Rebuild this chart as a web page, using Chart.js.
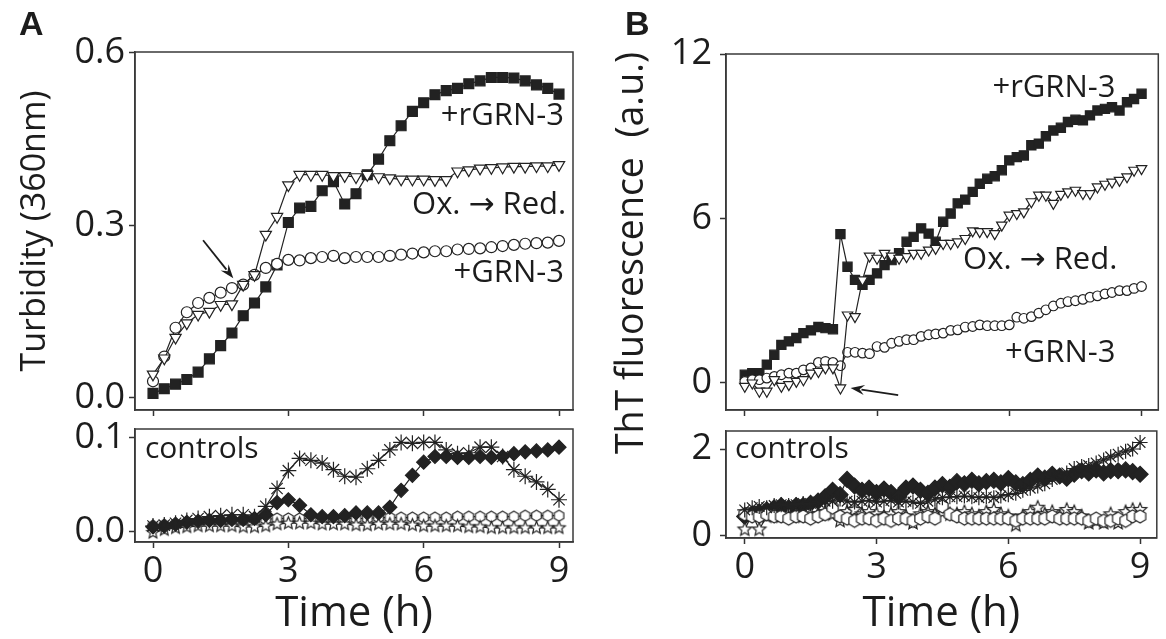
<!DOCTYPE html>
<html><head><meta charset="utf-8">
<script src="https://cdn.jsdelivr.net/npm/chart.js@4.4.1/dist/chart.umd.min.js"></script>
<style>
html,body{margin:0;padding:0;background:#fff;width:1166px;height:639px;overflow:hidden}
canvas{position:absolute;left:0;top:0}
</style></head><body>
<canvas id="cA1" width="1166" height="639"></canvas>
<canvas id="cA2" width="1166" height="639"></canvas>
<canvas id="cB1" width="1166" height="639"></canvas>
<canvas id="cB2" width="1166" height="639"></canvas>
<script>
// ---------------- data ----------------
const timeA = [0,0.25,0.5,0.75,1,1.25,1.5,1.75,2,2.25,2.5,2.75,3,3.25,3.5,3.75,4,4.25,4.5,4.75,5,5.25,5.5,5.75,6,6.25,6.5,6.75,7,7.25,7.5,7.75,8,8.25,8.5,8.75,9];
const timeB = [0,0.17,0.33,0.5,0.67,0.83,1,1.17,1.33,1.5,1.67,1.83,2,2.17,2.33,2.5,2.67,2.83,3,3.17,3.33,3.5,3.67,3.83,4,4.17,4.33,4.5,4.67,4.83,5,5.17,5.33,5.5,5.67,5.83,6,6.17,6.33,6.5,6.67,6.83,7,7.17,7.33,7.5,7.67,7.83,8,8.17,8.33,8.5,8.67,8.83,9];

// Panel A, turbidity
const turbRGRN3 = [0.008,0.016,0.024,0.032,0.045,0.068,0.091,0.113,0.143,0.165,0.193,0.231,0.305,0.33,0.333,0.36,0.376,0.337,0.355,0.388,0.415,0.447,0.473,0.498,0.513,0.527,0.534,0.538,0.546,0.551,0.557,0.557,0.556,0.551,0.544,0.538,0.528];
const turbOxRed = [0.041,0.069,0.105,0.13,0.145,0.15,0.162,0.163,0.197,0.214,0.284,0.315,0.37,0.388,0.388,0.388,0.386,0.386,0.384,0.388,0.384,0.382,0.38,0.38,0.38,0.379,0.379,0.394,0.396,0.399,0.4,0.401,0.402,0.402,0.403,0.403,0.405];
const turbGRN3 = [0.029,0.072,0.122,0.149,0.165,0.174,0.183,0.191,0.197,0.214,0.226,0.233,0.24,0.239,0.243,0.245,0.247,0.243,0.245,0.245,0.245,0.247,0.249,0.251,0.253,0.255,0.255,0.258,0.259,0.26,0.262,0.264,0.266,0.268,0.269,0.27,0.273];
// Panel A, controls
const turbCtlAsterisk = [0.006,0.007,0.009,0.012,0.014,0.016,0.017,0.018,0.018,0.016,0.027,0.046,0.065,0.078,0.076,0.073,0.066,0.059,0.058,0.067,0.076,0.087,0.095,0.094,0.095,0.095,0.087,0.083,0.084,0.09,0.09,0.08,0.066,0.059,0.053,0.045,0.034];
const turbCtlDiamond = [0.005,0.006,0.008,0.01,0.011,0.012,0.012,0.013,0.013,0.014,0.018,0.031,0.034,0.028,0.018,0.016,0.016,0.017,0.02,0.02,0.02,0.026,0.044,0.06,0.074,0.08,0.08,0.079,0.079,0.08,0.079,0.08,0.083,0.085,0.086,0.087,0.09];
const turbCtlHexagon = [0.006,0.007,0.008,0.009,0.01,0.011,0.011,0.012,0.012,0.013,0.013,0.014,0.014,0.014,0.014,0.014,0.014,0.014,0.014,0.014,0.015,0.015,0.015,0.015,0.015,0.015,0.015,0.016,0.016,0.016,0.016,0.016,0.016,0.017,0.017,0.017,0.017];
const turbCtlStar = [-0.001,0.002,0.004,0.005,0.006,0.006,0.006,0.006,0.005,0.005,0.006,0.008,0.009,0.009,0.009,0.008,0.008,0.008,0.007,0.007,0.008,0.008,0.008,0.007,0.006,0.006,0.006,0.006,0.005,0.005,0.004,0.004,0.004,0.004,0.004,0.004,0.004];

// Panel B, ThT fluorescence
const thtRGRN3 = [0.3,0.36,0.36,0.67,1.03,1.39,1.52,1.64,1.82,1.92,2.04,2.0,1.96,5.43,4.24,3.76,3.58,3.76,4.0,4.3,4.48,4.73,5.15,5.33,5.64,5.45,5.15,5.88,6.18,6.55,6.69,6.97,7.27,7.45,7.54,7.76,8.12,8.24,8.3,8.67,8.73,9.0,9.21,9.31,9.52,9.6,9.58,9.76,9.94,10.0,10.06,9.94,10.24,10.36,10.55];
const thtOxRed = [-0.12,0,-0.3,-0.3,0.12,-0.12,-0.06,0.06,0.12,0.36,0.42,0.55,0.55,-0.18,2.48,2.42,3.76,4.63,4.55,4.73,4.63,4.55,4.61,4.73,4.73,4.85,4.91,5.09,5.09,5.15,5.27,5.55,5.52,5.52,5.45,5.76,6.12,6.18,6.24,6.61,6.85,6.85,6.55,6.88,6.97,7.03,6.91,6.91,7.15,7.25,7.33,7.39,7.52,7.76,7.82];
const thtGRN3 = [0.06,0.12,0.12,0.18,0.24,0.3,0.36,0.36,0.48,0.55,0.75,0.79,0.75,0.63,1.12,1.12,1.09,1.07,1.33,1.3,1.45,1.52,1.58,1.58,1.7,1.76,1.79,1.82,1.92,1.94,2.04,2.06,2.12,2.09,2.09,2.09,2.12,2.4,2.36,2.42,2.55,2.67,2.81,2.91,2.97,3.0,3.05,3.13,3.18,3.25,3.3,3.37,3.37,3.45,3.52];
// Panel B, controls
const thtCtlDiamond = [0.45,0.5,0.55,0.6,0.65,0.7,0.65,0.7,0.7,0.75,0.8,0.9,1.05,0.95,1.3,1.15,1.05,1.1,1.0,1.08,1.0,0.9,1.1,1.15,1.05,0.98,1.1,1.18,1.12,1.25,1.2,1.28,1.2,1.25,1.28,1.22,1.32,1.22,1.18,1.28,1.38,1.33,1.42,1.38,1.33,1.42,1.5,1.45,1.52,1.45,1.5,1.5,1.52,1.48,1.42];
const thtCtlAsterisk = [0.6,0.65,0.68,0.65,0.7,0.72,0.7,0.72,0.75,0.75,0.78,0.8,0.8,0.85,0.8,0.78,0.8,0.82,0.78,0.8,0.82,0.78,0.8,0.78,0.75,0.8,0.85,0.88,0.9,0.9,0.92,0.9,0.88,0.9,0.88,0.92,0.95,0.98,1.05,1.1,1.15,1.2,1.3,1.38,1.45,1.55,1.6,1.62,1.68,1.75,1.82,1.88,1.95,2.0,2.15];
const thtCtlHexagon = [0.5,0.45,0.45,0.5,0.45,0.45,0.4,0.45,0.45,0.4,0.45,0.5,0.65,0.45,0.4,0.35,0.4,0.4,0.35,0.4,0.35,0.4,0.4,0.35,0.4,0.45,0.4,0.68,0.5,0.45,0.4,0.4,0.4,0.4,0.4,0.4,0.4,0.35,0.4,0.4,0.4,0.4,0.45,0.4,0.4,0.4,0.4,0.35,0.4,0.35,0.35,0.4,0.35,0.45,0.45];
const thtCtlStar = [0.15,0.5,0.15,0.45,0.5,0.45,0.5,0.5,0.45,0.5,0.5,0.55,0.5,0.35,0.55,0.6,0.5,0.55,0.5,0.45,0.5,0.55,0.45,0.3,0.5,0.55,0.5,0.55,0.5,0.5,0.55,0.5,0.45,0.55,0.6,0.5,0.45,0.25,0.45,0.55,0.65,0.5,0.55,0.45,0.6,0.55,0.45,0.3,0.35,0.3,0.5,0.3,0.55,0.6,0.6];

// tick values and labels
const timeTicks = [0,3,6,9];
const timeTickLabels = ['0','3','6','9'];
const turbTicks = [0,0.3,0.6];
const turbTickLabels = ['0.0','0.3','0.6'];
const turbCtlTicks = [0,0.1];
const turbCtlTickLabels = ['0.0','0.1'];
const thtTicks = [0,6,12];
const thtTickLabels = ['0','6','12'];
const thtCtlTicks = [0,2];
const thtCtlTickLabels = ['0','2'];

// ---------------- drawing ----------------
const W = 1166, H = 639;
const FONT = "'Open Sans', 'DejaVu Sans', sans-serif";
const INK = '#1c1c1c';
const LINE = '#222';
const LETTER_FONT = 'bold 34px Arial, "Liberation Sans", sans-serif';
Chart.defaults.font.family = FONT;

function pts(xs, ys) { return xs.map((x, i) => ({x: x, y: ys[i]})); }

function makeMarker(kind, r) {
  const pad = 2, s = Math.ceil(2 * r + 2 * pad);
  const c = document.createElement('canvas');
  c.width = s; c.height = s;
  const g = c.getContext('2d');
  const cx = s / 2, cy = s / 2;
  g.beginPath();
  if (kind === 'hex') {
    for (let i = 0; i < 6; i++) {
      const a = -Math.PI / 2 + i * Math.PI / 3;
      const px = cx + r * Math.cos(a), py = cy + r * Math.sin(a);
      if (i === 0) g.moveTo(px, py); else g.lineTo(px, py);
    }
  } else {
    for (let i = 0; i < 10; i++) {
      const rr = (i % 2) ? r * 0.45 : r;
      const a = -Math.PI / 2 + i * Math.PI / 5;
      const px = cx + rr * Math.cos(a), py = cy + rr * Math.sin(a);
      if (i === 0) g.moveTo(px, py); else g.lineTo(px, py);
    }
  }
  g.closePath();
  g.fillStyle = '#fff'; g.fill();
  g.lineWidth = 1.2; g.strokeStyle = LINE; g.stroke();
  return c;
}

function ds(label, xs, ys, style, radius, fill, extra) {
  return Object.assign({
    label: label,
    data: pts(xs, ys),
    borderColor: LINE,
    borderWidth: 1.2,
    pointStyle: style,
    pointRadius: radius,
    pointBackgroundColor: fill,
    pointBorderColor: LINE,
    pointBorderWidth: 1.2,
    tension: 0,
    fill: false
  }, extra || {});
}

const framePlugin = {
  id: 'frame',
  beforeDatasetsDraw(chart) {
    const {ctx, chartArea: a} = chart;
    ctx.save();
    ctx.strokeStyle = '#3a3a3a';
    ctx.lineWidth = 1.5;
    ctx.strokeRect(a.left, a.top, a.right - a.left, a.bottom - a.top);
    ctx.restore();
  }
};

const notesPlugin = {
  id: 'notes',
  afterDraw(chart, args, opts) {
    const ctx = chart.ctx, xs = chart.scales.x, ys = chart.scales.y;
    (opts.items || []).forEach(n => {
      const px = n.px !== undefined ? n.px : xs.getPixelForValue(n.x);
      const py = n.py !== undefined ? n.py : ys.getPixelForValue(n.y);
      ctx.save();
      ctx.translate(px, py);
      if (n.rot) ctx.rotate(n.rot);
      ctx.font = n.font;
      ctx.fillStyle = INK;
      ctx.textAlign = n.align || 'left';
      ctx.textBaseline = 'middle';
      ctx.fillText(n.text, 0, 0);
      ctx.restore();
    });
    (opts.arrows || []).forEach(a => {
      const x0 = xs.getPixelForValue(a.from[0]), y0 = ys.getPixelForValue(a.from[1]);
      const x1 = xs.getPixelForValue(a.to[0]), y1 = ys.getPixelForValue(a.to[1]);
      const ang = Math.atan2(y1 - y0, x1 - x0);
      const L = 14, w = 5;
      const bx = x1 - L * Math.cos(ang), by = y1 - L * Math.sin(ang);
      ctx.save();
      ctx.strokeStyle = INK; ctx.fillStyle = INK; ctx.lineWidth = 1.8;
      ctx.beginPath(); ctx.moveTo(x0, y0); ctx.lineTo(bx + 3 * Math.cos(ang), by + 3 * Math.sin(ang)); ctx.stroke();
      ctx.beginPath();
      ctx.moveTo(x1, y1);
      ctx.lineTo(bx + w * Math.sin(ang), by - w * Math.cos(ang));
      ctx.lineTo(bx + 0.35 * L * Math.cos(ang), by + 0.35 * L * Math.sin(ang));
      ctx.lineTo(bx - w * Math.sin(ang), by + w * Math.cos(ang));
      ctx.closePath(); ctx.fill();
      ctx.restore();
    });
  }
};

function zeroPad(s) { s.paddingLeft = 0; s.paddingRight = 0; s.paddingTop = 0; s.paddingBottom = 0; }

function panel(id, p) {
  const gridCfg = {display: true, drawOnChartArea: false, drawTicks: true, tickLength: 6, tickColor: '#333', tickWidth: 1.5};
  const borderCfg = {display: true, color: '#3a3a3a', width: 1.5};
  new Chart(document.getElementById(id), {
    type: 'line',
    data: {datasets: p.datasets},
    options: {
      responsive: false, animation: false, devicePixelRatio: 1, events: [],
      layout: {padding: {left: p.area.l - p.yW, top: p.area.t, right: W - p.area.r, bottom: 0}},
      plugins: {legend: {display: false}, tooltip: {enabled: false}, notes: {items: p.notes || [], arrows: p.arrows || []}},
      scales: {
        x: {
          type: 'linear', min: p.xRange[0], max: p.xRange[1],
          afterBuildTicks: s => { s.ticks = timeTicks.map(v => ({value: v})); },
          afterFit: s => { s.height = H - p.area.b; zeroPad(s); },
          ticks: {display: !!p.xTitle, font: {size: 36}, color: INK, padding: 2, maxRotation: 0, autoSkip: false,
                  callback: v => timeTickLabels[timeTicks.indexOf(v)]},
          grid: gridCfg, border: borderCfg,
          title: p.xTitle ? {display: true, text: p.xTitle, font: {size: 42}, color: INK, padding: {top: 0, bottom: 0}} : {display: false}
        },
        y: {
          type: 'linear', min: p.yRange[0], max: p.yRange[1],
          afterBuildTicks: s => { s.ticks = p.yTicks.map(v => ({value: v})); },
          afterFit: s => { s.width = p.yW; zeroPad(s); },
          ticks: {font: {size: 36}, color: INK, padding: p.yPad, autoSkip: false,
                  callback: v => p.yLabels[p.yTicks.indexOf(v)]},
          grid: gridCfg, border: borderCfg,
          title: p.yTitle ? {display: true, text: p.yTitle, font: {size: 34}, color: INK, padding: {top: 15, bottom: 0}} : {display: false}
        }
      }
    },
    plugins: [framePlugin, notesPlugin]
  });
}

const hexA = makeMarker('hex', 5.5), starA = makeMarker('star', 6.5);
const hexB = makeMarker('hex', 6.5), starB = makeMarker('star', 7);
const annFont = '31px ' + FONT;

panel('cA1', {
  area: {l: 135, t: 52, r: 573, b: 410}, yW: 135, yPad: 4,
  xRange: [-0.399, 9.31], yRange: [-0.0209, 0.6012],
  yTicks: turbTicks, yLabels: turbTickLabels, yTitle: 'Turbidity (360nm)',
  datasets: [
    ds('Ox. → Red.', timeA, turbOxRed, 'triangle', 6.5, '#fff', {pointRotation: 180}),
    ds('+GRN-3', timeA, turbGRN3, 'circle', 5.5, '#fff'),
    ds('+rGRN-3', timeA, turbRGRN3, 'rect', 7, LINE)
  ],
  notes: [
    {text: '+rGRN-3', x: 9.11, y: 0.49, align: 'right', font: annFont},
    {text: 'Ox. → Red.', x: 9.16, y: 0.335, align: 'right', font: annFont},
    {text: '+GRN-3', x: 9.11, y: 0.217, align: 'right', font: annFont},
    {text: 'A', px: 19, py: 26, align: 'left', font: LETTER_FONT}
  ],
  arrows: [{from: [1.11, 0.274], to: [1.78, 0.208]}]
});

panel('cA2', {
  area: {l: 135, t: 429, r: 573, b: 542}, yW: 135, yPad: 4,
  xRange: [-0.399, 9.31], yRange: [-0.011, 0.1093],
  yTicks: turbCtlTicks, yLabels: turbCtlTickLabels, xTitle: 'Time (h)',
  datasets: [
    ds('control 1', timeA, turbCtlAsterisk, 'star', 8, '#fff'),
    ds('control 2', timeA, turbCtlDiamond, 'rectRot', 7, LINE),
    ds('control 4', timeA, turbCtlStar, starA, 6, '#fff'),
    ds('control 3', timeA, turbCtlHexagon, hexA, 5.5, '#fff')
  ],
  notes: [{text: 'controls', x: -0.18, y: 0.087, align: 'left', font: '30px ' + FONT}]
});

panel('cB1', {
  area: {l: 726, t: 54, r: 1163, b: 410}, yW: 126, yPad: 8,
  xRange: [-0.426, 9.38], yRange: [-0.985, 12.0],
  yTicks: thtTicks, yLabels: thtTickLabels,
  datasets: [
    ds('Ox. → Red.', timeB, thtOxRed, 'triangle', 6, '#fff', {pointRotation: 180}),
    ds('+GRN-3', timeB, thtGRN3, 'circle', 4.8, '#fff'),
    ds('+rGRN-3', timeB, thtRGRN3, 'rect', 6.5, LINE)
  ],
  notes: [
    {text: '+rGRN-3', x: 8.41, y: 10.76, align: 'right', font: annFont},
    {text: 'Ox. → Red.', x: 8.45, y: 4.47, align: 'right', font: annFont},
    {text: '+GRN-3', x: 8.41, y: 1.09, align: 'right', font: annFont},
    {text: 'B', px: 625, py: 26, align: 'left', font: LETTER_FONT},
    {text: 'ThT fluorescence  (a.u.)', px: 632, py: 253, rot: -Math.PI / 2, align: 'center', font: '37.5px ' + FONT}
  ],
  arrows: [{from: [3.48, -0.44], to: [2.40, -0.18]}]
});

panel('cB2', {
  area: {l: 726, t: 431, r: 1163, b: 538}, yW: 126, yPad: 8,
  xRange: [-0.426, 9.38], yRange: [-0.046, 2.414],
  yTicks: thtCtlTicks, yLabels: thtCtlTickLabels, xTitle: 'Time (h)',
  datasets: [
    ds('control 1', timeB, thtCtlAsterisk, 'star', 7.5, '#fff'),
    ds('control 3', timeB, thtCtlHexagon, hexB, 6.5, '#fff'),
    ds('control 4', timeB, thtCtlStar, starB, 6.5, '#fff'),
    ds('control 2', timeB, thtCtlDiamond, 'rectRot', 8, LINE)
  ],
  notes: [{text: 'controls', x: -0.22, y: 1.98, align: 'left', font: '30px ' + FONT}]
});
</script>
</body></html>
